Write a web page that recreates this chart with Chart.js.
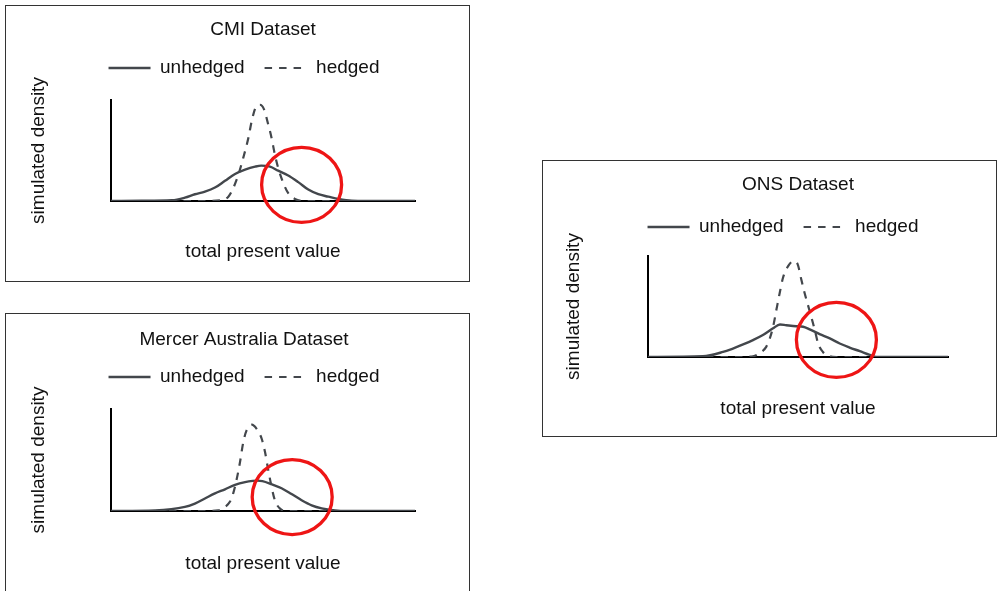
<!DOCTYPE html>
<html>
<head>
<meta charset="utf-8">
<script src="https://cdn.jsdelivr.net/npm/chart.js@4/dist/chart.umd.min.js"></script>
<style>
  html, body { margin: 0; padding: 0; background: #fff; overflow: hidden; width: 997px; height: 591px; }
  .panel { position: absolute; border: 1px solid #333; box-sizing: content-box; background: #fff; }
  .panel canvas { display: block; }
</style>
</head>
<body>
<div class="panel" style="left:5px; top:5px; width:463px; height:275px;"><canvas id="cmi" width="463" height="275"></canvas></div>
<div class="panel" style="left:5px; top:313px; width:463px; height:290px;"><canvas id="mercer" width="463" height="280"></canvas></div>
<div class="panel" style="left:542px; top:160px; width:453px; height:275px;"><canvas id="ons" width="453" height="275"></canvas></div>
<script>
// Simulated densities of total present value (x: 0-100 scale, y: relative density)
const seriesLabels = ['unhedged', 'hedged'];

const cmiUnhedgedX = [0, 10, 20, 24.3, 27.6, 30.9, 34.2, 37.5, 40.8, 44.1, 47.4, 49.4, 52.3, 55, 58.3, 61.6, 64.9, 68.2, 71.5, 74.8, 79.2, 90, 100];
const cmiUnhedgedY = [0, 0.2, 0.7, 3.3, 6.7, 9.3, 13.3, 20, 26.7, 31, 34, 35, 34, 30, 25.3, 18.7, 11.3, 6.7, 4.3, 2, 0.3, 0, 0];
const cmiHedgedX = [0, 30, 36.4, 38.6, 40.2, 41.9, 43.5, 45.2, 46.3, 47.6, 49, 50.3, 51.7, 52.8, 53.9, 55, 56.7, 58.3, 60.5, 63.8, 80, 100];
const cmiHedgedY = [0, 0, 0.7, 4.3, 12.7, 26, 42.7, 62.7, 79.3, 92.7, 95.3, 91, 76, 62.7, 46, 32.7, 17.7, 7.7, 2, 0, 0, 0];

const mercerUnhedgedX = [0, 14.5, 24.3, 27.6, 30.9, 34.2, 37.5, 40.8, 44.1, 46.6, 48.2, 49.8, 52.8, 56.1, 59.4, 62.7, 66, 69.3, 73.7, 77, 100];
const mercerUnhedgedY = [0, 0.6, 4, 7.3, 12.3, 17.3, 21.3, 25.6, 28.3, 29.5, 29.8, 29.3, 26.3, 22.3, 16.6, 10.6, 5.6, 2.6, 0.6, 0, 0];
const mercerHedgedX = [0, 30, 35.3, 37.5, 39.1, 40.2, 41.3, 42.4, 43.5, 44.6, 46.3, 47.9, 49.6, 50.7, 51.7, 52.8, 53.9, 55.6, 57.8, 80, 100];
const mercerHedgedY = [0, 0, 0.6, 4, 9, 17.3, 30.6, 47.3, 67.3, 79, 84.6, 80.6, 70.6, 57.3, 40.6, 24, 10.6, 2.3, 0, 0, 0];

const onsUnhedgedX = [0, 18.3, 25, 28.3, 31.7, 35, 38.3, 41.7, 44, 46.1, 49.4, 51.7, 53.9, 57.2, 60.6, 63.9, 67.2, 70.6, 73.9, 76.1, 100];
const onsUnhedgedY = [0, 0.7, 5, 8.4, 12.4, 16.7, 21.7, 28.4, 32.2, 31.5, 30.5, 30, 27.4, 22.7, 18.4, 13.4, 9.4, 5.7, 2, 0, 0];
const onsHedgedX = [0, 30, 35, 37.8, 39.4, 40.6, 41.7, 42.8, 43.9, 45, 46.7, 48.5, 49.9, 51.1, 52.2, 53.3, 54.4, 55.6, 56.7, 58.3, 60.6, 62.8, 80, 100];
const onsHedgedY = [0, 0, 0.7, 5, 10, 18.4, 30, 46.7, 63.4, 78.4, 90, 95, 91.7, 76.7, 63.4, 51.7, 40, 26.7, 13.4, 5, 0.7, 0, 0, 0];

// Centre (x, y) of the highlighted right-tail region in each panel
const cmiHighlight = [62.7, 16];
const mercerHighlight = [59.6, 13.7];
const onsHighlight = [62.8, 17];

const FONT = "'Liberation Sans', Arial, Helvetica, sans-serif";
const FONT_SIZE = 19;
const TEXT = '#111';
const CURVE = '#43474c';

const toPoints = (xs, ys) => xs.map((x, i) => ({ x, y: ys[i] }));

// Red ellipse drawn around a point given in data coordinates
const highlightRing = {
  id: 'highlightRing',
  afterDatasetsDraw(chart, args, opts) {
    const { ctx, scales } = chart;
    const cx = scales.x.getPixelForValue(opts.at[0]);
    const cy = scales.y.getPixelForValue(opts.at[1]);
    ctx.save();
    ctx.beginPath();
    ctx.ellipse(cx, cy, opts.rx, opts.ry, 0, 0, Math.PI * 2);
    ctx.strokeStyle = opts.color;
    ctx.lineWidth = opts.lineWidth;
    ctx.stroke();
    ctx.restore();
  }
};

// Invisible axis that only reserves room beside the plot
function spacer(position, size) {
  return {
    type: 'linear', position, display: true,
    grid: { display: false, drawTicks: false },
    border: { display: false },
    ticks: { display: false },
    afterFit(scale) {
      if (position === 'top' || position === 'bottom') scale.height = size; else scale.width = size;
    }
  };
}

function drawPanel(id, title, unX, unY, heX, heY, highlight, L) {
  const font = { family: FONT, size: FONT_SIZE, lineHeight: 1 };
  new Chart(document.getElementById(id), {
    type: 'line',
    data: {
      datasets: [
        {
          label: seriesLabels[0], data: toPoints(unX, unY),
          borderColor: CURVE, borderWidth: 2.4, pointRadius: 0,
          cubicInterpolationMode: 'monotone', fill: false
        },
        {
          label: seriesLabels[1], data: toPoints(heX, heY),
          borderColor: CURVE, borderWidth: 2.2, borderDash: [7.5, 7], pointRadius: 0,
          cubicInterpolationMode: 'monotone', fill: false
        }
      ]
    },
    options: {
      responsive: false,
      animation: false,
      events: [],
      devicePixelRatio: 1,
      layout: { autoPadding: false, padding: { left: L.left, right: 0, top: 0, bottom: 0 } },
      scales: {
        x: {
          type: 'linear', min: 0, max: 100,
          grid: { display: false, drawTicks: false },
          border: { display: true, color: '#000', width: 2 },
          ticks: { display: false },
          title: { display: true, text: 'total present value', color: TEXT, font, padding: L.xPad }
        },
        y: {
          type: 'linear', min: 0, max: 100,
          grid: { display: false, drawTicks: false },
          border: { display: true, color: '#000', width: 2 },
          ticks: { display: false },
          title: { display: true, text: 'simulated density', color: TEXT, font, padding: L.yPad }
        },
        gapTop: spacer('top', L.topGap),
        gapRight: spacer('right', L.rightGap)
      },
      plugins: {
        title: {
          display: true, text: title, color: TEXT, fullSize: L.titleFull,
          font: { ...font, weight: 'normal' },
          padding: L.titlePad
        },
        legend: {
          display: true, position: 'top', align: 'center',
          labels: {
            usePointStyle: true, pointStyleWidth: 42, padding: 20, color: TEXT, font,
            generateLabels: chart => chart.data.datasets.map((ds, i) => ({
              text: ds.label, fillStyle: 'rgba(0,0,0,0)', strokeStyle: ds.borderColor,
              lineWidth: ds.borderWidth, lineDash: ds.borderDash || [], pointStyle: 'line',
              fontColor: TEXT, hidden: false, datasetIndex: i
            }))
          }
        },
        tooltip: { enabled: false },
        highlightRing: { at: highlight, rx: 40, ry: 37.5, color: '#ee1515', lineWidth: 3.3 }
      }
    },
    plugins: [highlightRing]
  });
}

drawPanel('cmi', 'CMI Dataset', cmiUnhedgedX, cmiUnhedgedY, cmiHedgedX, cmiHedgedY, cmiHighlight, {
  left: 13, titleFull: false, titlePad: { top: 14.5, bottom: -1 }, topGap: 12.5,
  yPad: { top: 10.5, bottom: 62.5 }, rightGap: 54, xPad: { top: 41.5, bottom: 19.5 }
});
drawPanel('mercer', 'Mercer Australia Dataset', mercerUnhedgedX, mercerUnhedgedY, mercerHedgedX, mercerHedgedY, mercerHighlight, {
  left: 13, titleFull: true, titlePad: { top: 15.8, bottom: -1.3 }, topGap: 12.5,
  yPad: { top: 10.5, bottom: 62.5 }, rightGap: 54, xPad: { top: 43.5, bottom: 20.5 }
});
drawPanel('ons', 'ONS Dataset', onsUnhedgedX, onsUnhedgedY, onsHedgedX, onsHedgedY, onsHighlight, {
  left: 27, titleFull: false, titlePad: { top: 14.5, bottom: 3 }, topGap: 9.5,
  yPad: { top: -5.5, bottom: 64.5 }, rightGap: 48, xPad: { top: 42.5, bottom: 17.5 }
});
</script>
</body>
</html>
